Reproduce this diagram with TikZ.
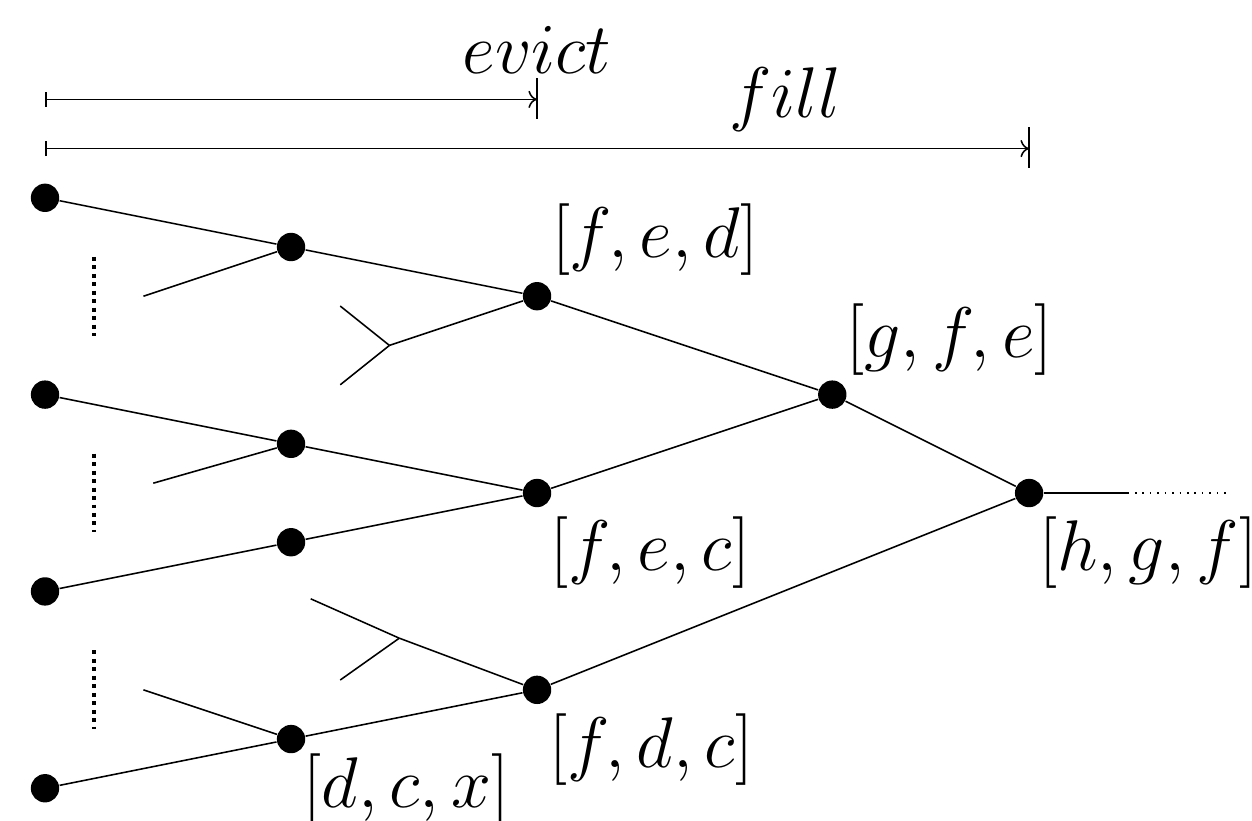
\documentclass[tikz,border=0pt]{standalone}
\usetikzlibrary{positioning, arrows.meta}
\tikzset{
  trdot/.style   = {circle, fill=black, inner sep=0pt, minimum size=8.2pt},
  tredge/.style  = {line width=0.45pt},
  trvdots/.style = {line width=1.15pt, dash pattern=on 1.15pt off 1.3pt},
  trtail/.style  = {line width=0.45pt, dash pattern=on 0.45pt off 1.7pt},
  trspan/.style  = {{Bar[width=4.3pt]}-{To[length=2.5pt,width=5pt]}, line width=0.45pt},
  trbar/.style   = {line width=0.45pt},
  trlab/.style   = {font=\fontsize{19.2}{23}\selectfont, inner sep=0pt},
}
\begin{document}
\begin{tikzpicture}[x=0.5cm, y=0.5cm]
\useasboundingbox (-0.915,4.02) rectangle (24.53,-12.66);

% spans on top
\coordinate (s0) at (0,2);
\coordinate (s1) at (10,2);
\coordinate (f0) at (0,1);
\coordinate (f1) at (20,1);
\draw[trspan] (s0) -- (s1);
\draw[trbar] (10,2.43) -- (10,1.6);
\draw[trspan] (f0) -- (f1);
\draw[trbar] (20,1.43) -- (20,0.6);
\node[trlab] (evict) at (10.0,3.0) {$evict$};
\node[trlab] (fill) at (15.04,2.0) {$fill$};

% tree nodes
\node[trdot] (a1) at (0,0) {};
\node[trdot] (a2) at (0,-4) {};
\node[trdot] (a3) at (0,-8) {};
\node[trdot] (a4) at (0,-12) {};
\node[trdot] (b1) at (5,-1) {};
\node[trdot] (b2) at (5,-5) {};
\node[trdot] (b3) at (5,-7) {};
\node[trdot] (b4) at (5,-11) {};
\node[trdot] (c1) at (10,-2) {};
\node[trdot] (c2) at (10,-6) {};
\node[trdot] (c3) at (10,-10) {};
\node[trdot] (d1) at (16,-4) {};
\node[trdot] (e1) at (20,-6) {};

% loose ends
\coordinate (u1) at (2,-2);
\coordinate (u2) at (2.2,-5.8);
\coordinate (u3) at (2,-10);
\coordinate (k1) at (7,-3);
\coordinate (k1a) at (6,-2.2);
\coordinate (k1b) at (6,-3.8);
\coordinate (k2) at (7.2,-8.95);
\coordinate (k2a) at (5.4,-8.15);
\coordinate (k2b) at (6,-9.8);
\coordinate (t1) at (22,-6);
\coordinate (t2) at (24,-6);

\draw[tredge] (a1) -- (b1);
\draw[tredge] (u1) -- (b1);
\draw[tredge] (b1) -- (c1);
\draw[tredge] (k1) -- (c1);
\draw[tredge] (k1a) -- (k1);
\draw[tredge] (k1b) -- (k1);
\draw[tredge] (a2) -- (b2);
\draw[tredge] (u2) -- (b2);
\draw[tredge] (b2) -- (c2);
\draw[tredge] (a3) -- (b3);
\draw[tredge] (b3) -- (c2);
\draw[tredge] (k2a) -- (k2);
\draw[tredge] (k2b) -- (k2);
\draw[tredge] (k2) -- (c3);
\draw[tredge] (a4) -- (b4);
\draw[tredge] (u3) -- (b4);
\draw[tredge] (b4) -- (c3);
\draw[tredge] (c1) -- (d1);
\draw[tredge] (c2) -- (d1);
\draw[tredge] (d1) -- (e1);
\draw[tredge] (c3) -- (e1);
\draw[tredge] (e1) -- (t1);
\draw[trtail] (t1) -- (t2);

% vertical dots
\draw[trvdots] (1,-1.2) -- (1,-2.8);
\draw[trvdots] (1,-5.2) -- (1,-6.8);
\draw[trvdots] (1,-9.2) -- (1,-10.8);

% labels
\node[trlab] (lc1) at (12.4,-0.85) {$[f,e,d]$};
\node[trlab] (ld1) at (18.39,-2.89) {$[g,f,e]$};
\node[trlab] (lc2) at (12.3,-7.22) {$[f,e,c]$};
\node[trlab] (le1) at (22.42,-7.22) {$[h,g,f]$};
\node[trlab] (lc3) at (12.32,-11.22) {$[f,d,c]$};
\node[trlab] (lb4) at (7.35,-12.03) {$[d,c,x]$};
\end{tikzpicture}
\end{document}
